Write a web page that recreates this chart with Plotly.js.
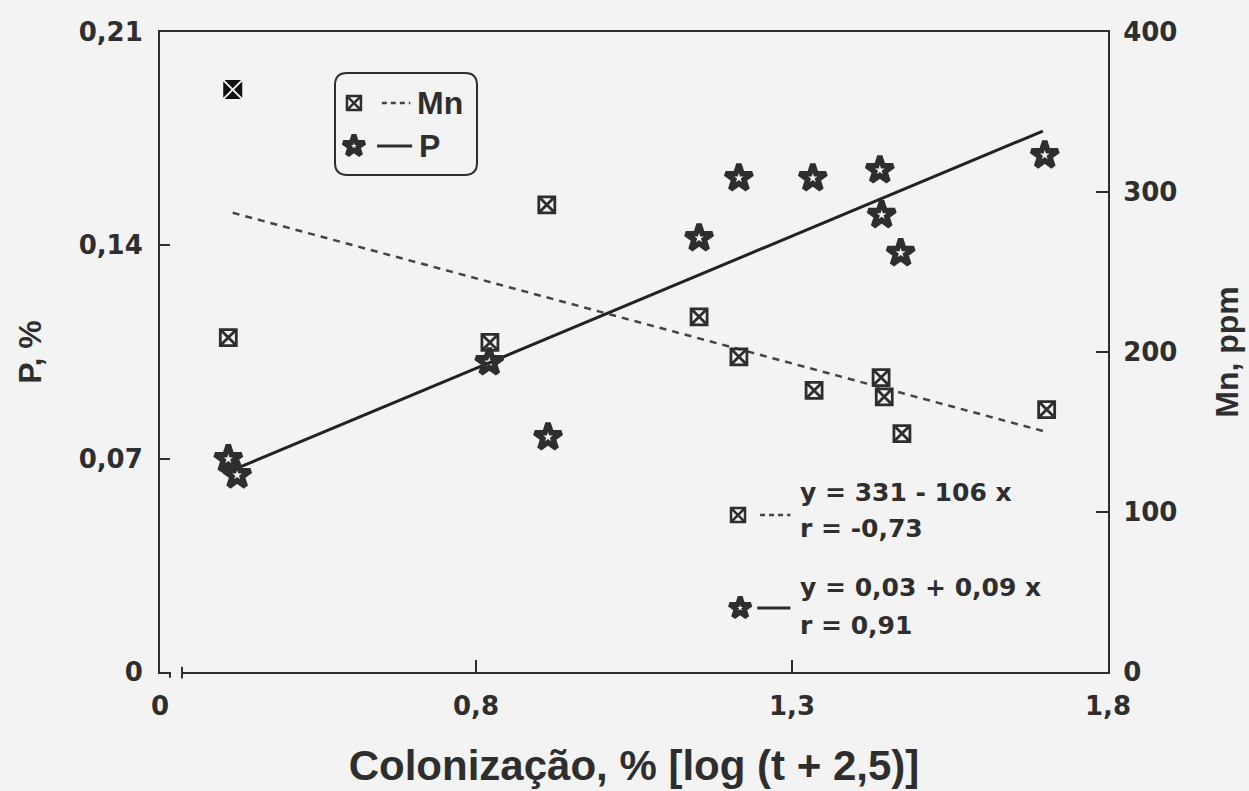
<!DOCTYPE html>
<html>
<head>
<meta charset="utf-8">
<script src="https://cdn.plot.ly/plotly-3.0.1.min.js"></script>
<style>html,body{margin:0;padding:0;background:#f3f3f3;}#chart{width:1249px;height:791px;}</style>
</head>
<body>
<div id="chart"></div>
<script>
// ---- data ----
const xTickVals = [0.3, 0.8, 1.3, 1.8];
const xTickText = ["0", "0,8", "1,3", "1,8"];
const pTickVals = [0, 0.07, 0.14, 0.21];
const pTickText = ["0", "0,07", "0,14", "0,21"];
const mnTickVals = [0, 100, 200, 300, 400];
const mnTickText = ["0", "100", "200", "300", "400"];

// Mn, ppm (squares)
const mnX = [0.408, 0.822, 0.912, 1.153, 1.216, 1.335, 1.441, 1.446, 1.474, 1.703];
const mnY = [209, 206, 292, 222, 197, 176, 184, 172, 149, 164];
// Mn outlier (filled square)
const mnOutX = [0.415];
const mnOutY = [364];

// P, % (stars)
const pX = [0.408, 0.422, 0.821, 0.914, 1.153, 1.216, 1.333, 1.439, 1.442, 1.472, 1.700];
const pY = [0.0699, 0.0646, 0.1017, 0.0771, 0.1424, 0.1621, 0.1621, 0.1647, 0.1500, 0.1375, 0.1696];

// fitted lines (end points as drawn)
const mnFitX = [0.415, 1.703];
const mnFitY = [287, 150];
const pFitX = [0.427, 1.697];
const pFitY = [0.0673, 0.1775];

const mnEq = ["y = 331 - 106 x", "r = -0,73"];
const pEq = ["y = 0,03 + 0,09 x", "r = 0,91"];
const legendNames = ["Mn", "P"];

// ---- styles ----
const ink = "#2e2e2e";
const bg = "#f3f3f3";
const tickFont = {family: "DejaVu Sans", size: 26, color: ink, weight: "bold"};
const titleFont = {family: "Liberation Sans", size: 32, color: ink, weight: "bold"};
const annFont = {family: "DejaVu Sans", size: 25, color: ink, weight: "bold"};

const sqMarker = {symbol: "square-x-open", size: 16, color: ink, line: {width: 2.8, color: ink}};
const starMarker = {symbol: "star-open", size: 20, color: ink, line: {width: 5.5, color: ink}};

const traces = [
  {x: mnFitX, y: mnFitY, yaxis: "y2", mode: "lines", line: {color: "#444", width: 2.5, dash: "7px,6px"}, hoverinfo: "skip"},
  {x: pFitX, y: pFitY, mode: "lines", line: {color: "#222", width: 3}, hoverinfo: "skip"},
  {x: mnX, y: mnY, yaxis: "y2", mode: "markers", marker: sqMarker, name: "Mn"},
  {x: mnOutX, y: mnOutY, yaxis: "y2", mode: "markers", marker: {symbol: "square-x", size: 21, color: "#111", line: {width: 2, color: "#f3f3f3"}}, name: "Mn"},
  {x: pX, y: pY, mode: "markers", marker: starMarker, name: "P"},
  // legend / equation key symbols on an overlay axis spanning the plot area
  {x: [0.2046, 0.6097], y: [0.889, 0.2453], xaxis: "x3", yaxis: "y3", mode: "markers", marker: {symbol: "square-x-open", size: 14, color: ink, line: {width: 2.5, color: ink}}, hoverinfo: "skip"},
  {x: [0.2046, 0.612], y: [0.822, 0.100], xaxis: "x3", yaxis: "y3", mode: "markers", marker: {symbol: "star-open", size: 16, color: ink, line: {width: 5, color: ink}}, hoverinfo: "skip"}
];

// rounded legend box
const bx0 = 0.1846, bx1 = 0.3344, by0 = 0.7766, by1 = 0.936, rx = 0.0127, ry = 0.019;
const boxPath = `M ${bx0+rx},${by0} L ${bx1-rx},${by0} Q ${bx1},${by0} ${bx1},${by0+ry} L ${bx1},${by1-ry} Q ${bx1},${by1} ${bx1-rx},${by1} L ${bx0+rx},${by1} Q ${bx0},${by1} ${bx0},${by1-ry} L ${bx0},${by0+ry} Q ${bx0},${by0} ${bx0+rx},${by0} Z`;

const shapes = [
  {type: "path", xref: "paper", yref: "paper", path: boxPath, line: {color: ink, width: 2}, fillcolor: "rgba(0,0,0,0)"},
  {type: "line", xref: "paper", yref: "paper", x0: 0.234, x1: 0.264, y0: 0.889, y1: 0.889, line: {color: "#444", width: 2.5, dash: "5px,4px"}},
  {type: "line", xref: "paper", yref: "paper", x0: 0.229, x1: 0.266, y0: 0.822, y1: 0.822, line: {color: ink, width: 3}},
  {type: "line", xref: "paper", yref: "paper", x0: 0.633, x1: 0.665, y0: 0.2453, y1: 0.2453, line: {color: "#444", width: 2.5, dash: "5px,4px"}},
  {type: "line", xref: "paper", yref: "paper", x0: 0.630, x1: 0.665, y0: 0.100, y1: 0.100, line: {color: ink, width: 3}},
  // axis break at origin
  {type: "rect", xref: "paper", yref: "paper", x0: 0.0115, x1: 0.0225, y0: -0.006, y1: 0.006, line: {width: 0}, fillcolor: bg, layer: "above"},
  {type: "line", xref: "paper", yref: "paper", x0: 0.0105, x1: 0.0105, y0: 0.0, y1: -0.009, line: {color: ink, width: 2}},
  {type: "line", xref: "paper", yref: "paper", x0: 0.0232, x1: 0.0232, y0: 0.008, y1: -0.010, line: {color: ink, width: 2}}
];

function ann(x, y, text, font) {
  return {xref: "paper", yref: "paper", x: x, y: y, text: text, showarrow: false, xanchor: "left", yanchor: "middle", font: font};
}
const legFont = {family: "Liberation Sans", size: 32, color: ink, weight: "bold"};
const annotations = [
  ann(0.269, 0.889, legendNames[0], legFont),
  ann(0.271, 0.822, legendNames[1], legFont),
  ann(0.673, 0.2797, mnEq[0], annFont),
  ann(0.673, 0.225, mnEq[1], annFont),
  ann(0.673, 0.1328, pEq[0], annFont),
  ann(0.673, 0.0734, pEq[1], annFont)
];

const layout = {
  width: 1249, height: 791,
  margin: {l: 160, r: 141, t: 32, b: 119},
  paper_bgcolor: bg, plot_bgcolor: bg,
  showlegend: false,
  xaxis: {
    range: [0.2999, 1.8001], tickvals: xTickVals, ticktext: xTickText,
    showline: true, mirror: true, linecolor: ink, linewidth: 2,
    ticks: "inside", ticklen: 12, tickwidth: 2, tickcolor: ink,
    showgrid: false, zeroline: false, tickfont: tickFont, ticklabelstandoff: 10,
    title: {text: "Colonização, % [log (t + 2,5)]", font: {family: "Liberation Sans", size: 42, color: ink, weight: "bold"}, standoff: 30}
  },
  yaxis: {
    range: [0, 0.21], tickvals: pTickVals, ticktext: pTickText,
    showline: true, linecolor: ink, linewidth: 2,
    ticks: "inside", ticklen: 10, tickwidth: 2, tickcolor: ink,
    showgrid: false, zeroline: false, tickfont: tickFont, ticklabelstandoff: 10,
    title: {text: "P, %", font: titleFont, standoff: 27}
  },
  yaxis2: {
    range: [0, 400], tickvals: mnTickVals, ticktext: mnTickText,
    overlaying: "y", side: "right",
    showline: true, linecolor: ink, linewidth: 2,
    ticks: "inside", ticklen: 12, tickwidth: 2, tickcolor: ink,
    showgrid: false, zeroline: false, tickfont: tickFont, ticklabelstandoff: 8,
    title: {text: "Mn, ppm", font: titleFont, standoff: 39}
  },
  xaxis3: {overlaying: "x", range: [0, 1], visible: false, anchor: "y3"},
  yaxis3: {overlaying: "y", range: [0, 1], visible: false, anchor: "x3"},
  shapes: shapes,
  annotations: annotations
};

Plotly.newPlot("chart", traces, layout, {staticPlot: true});
</script>
</body>
</html>
